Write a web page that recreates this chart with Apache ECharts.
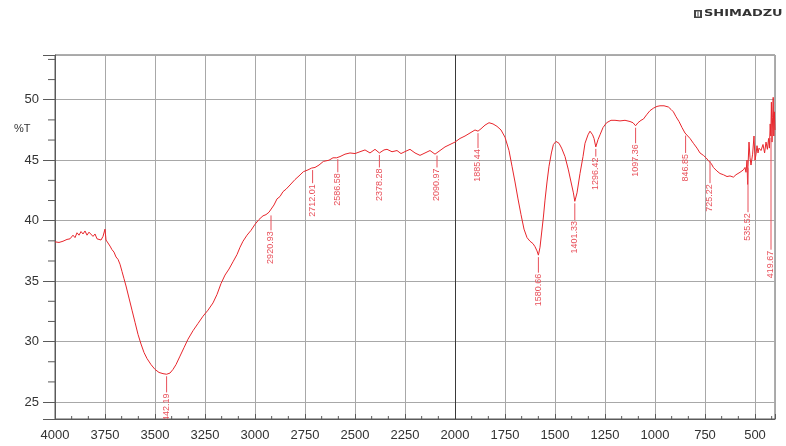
<!DOCTYPE html>
<html>
<head>
<meta charset="utf-8">
<script src="https://cdn.jsdelivr.net/npm/echarts@6/dist/echarts.min.js"></script>
<style>
html,body{margin:0;padding:0;background:#fff;}
#chart{width:786px;height:446px;}
</style>
</head>
<body>
<div id="chart"></div>
<script>
// ---- data ----
const wavenumbers = [4000,3980,3960,3940,3925,3910,3900,3890,3880,3870,3860,3850,3840,3830,3820,3810,3800,3790,3780,3770,3760,3750,3745,3735,3725,3715,3705,3695,3685,3675,3665,3655,3645,3630,3615,3600,3585,3570,3555,3540,3520,3500,3480,3460,3442,3425,3410,3395,3375,3355,3335,3310,3285,3260,3235,3210,3190,3170,3150,3130,3110,3090,3075,3060,3040,3020,3000,2980,2960,2945,2930,2920,2905,2890,2875,2860,2845,2825,2800,2780,2758,2735,2717,2700,2680,2658,2630,2610,2592,2575,2550,2525,2500,2475,2450,2425,2400,2378,2355,2340,2315,2290,2270,2245,2225,2200,2175,2150,2125,2100,2090,2075,2050,2025,2000,1975,1950,1925,1900,1885,1870,1850,1830,1810,1790,1770,1750,1730,1715,1700,1685,1670,1655,1640,1625,1610,1600,1590,1583,1575,1567,1558,1550,1540,1530,1518,1508,1495,1480,1467,1450,1433,1420,1408,1401,1390,1375,1360,1350,1335,1325,1312,1305,1296,1285,1275,1260,1242,1220,1200,1175,1150,1125,1110,1097,1085,1070,1058,1040,1025,1008,990,975,955,933,920,908,895,880,865,850,840,825,808,790,775,758,745,735,728,725,718,708,690,675,658,640,625,608,595,585,575,565,558,550,545,540,537,535,530,525,520,512,505,500,495,490,485,480,470,460,452,445,438,432,428,424,421,418,415,412,409,406,403,400];
const transmittance = [38.25,38.2,38.3,38.45,38.5,38.8,38.6,39.0,38.8,39.1,38.9,39.15,38.8,39.05,38.9,38.7,38.9,38.5,38.6,38.4,38.7,39.3,38.4,38.3,37.9,37.6,37.4,37.0,36.8,36.4,35.8,35.2,34.6,33.6,32.6,31.6,30.6,29.8,29.1,28.6,28.1,27.7,27.45,27.35,27.3,27.4,27.7,28.1,28.8,29.5,30.2,30.9,31.5,32.1,32.6,33.2,33.9,34.8,35.5,36.0,36.6,37.2,37.8,38.3,38.8,39.2,39.7,40.1,40.4,40.5,40.7,40.6,41.3,41.8,42.0,42.4,42.6,42.95,43.4,43.7,44.05,44.2,44.35,44.4,44.6,44.9,45.0,45.2,45.2,45.3,45.5,45.6,45.55,45.7,45.85,45.6,45.9,45.6,45.85,45.9,45.7,45.8,45.55,45.75,45.9,45.6,45.4,45.6,45.8,45.5,45.55,45.8,46.1,46.3,46.5,46.8,47.0,47.25,47.5,47.4,47.6,47.9,48.1,48.0,47.8,47.5,46.9,45.8,44.5,43.2,41.8,40.5,39.3,38.6,38.3,38.1,37.85,37.5,37.15,37.8,38.98,40.3,41.7,43.2,44.5,45.6,46.3,46.55,46.4,46.0,45.3,44.2,43.2,42.3,41.6,42.3,43.9,45.3,46.4,47.1,47.4,47.1,46.8,46.1,46.7,47.1,47.7,48.1,48.3,48.3,48.25,48.3,48.2,48.1,47.85,48.1,48.3,48.4,48.8,49.1,49.3,49.45,49.5,49.5,49.4,49.2,49.0,48.6,48.2,47.7,47.25,47.1,46.8,46.4,46.0,45.6,45.4,45.2,45.0,44.9,45.1,44.7,44.4,44.1,43.9,43.8,43.65,43.7,43.6,43.8,43.7,44.0,43.9,44.2,44.4,44.0,45.0,43.0,44.5,46.5,45.2,44.6,45.5,47.0,45.0,45.5,46.2,45.6,46.0,45.8,46.3,45.6,46.5,45.9,46.8,46.0,48.0,47.0,49.8,46.5,48.5,50.2,47.0,49.0,47.5];

const peakWavenumbers = [3442, 2920, 2712, 2586, 2378, 2090, 1885, 1583, 1401, 1296, 1097, 847, 725, 535, 420];
const peakTransmittance = [27.3, 40.6, 44.35, 45.25, 45.6, 45.55, 47.4, 37.15, 41.6, 46.1, 47.85, 47.2, 45.1, 44.5, 47.0];
const peakLabels = ["3442.19","2920.93","2712.01","2586.58","2378.28","2090.97","1885.44","1580.66","1401.33","1296.42","1097.36","846.85","725.22","535.52","419.67"];
const peakLabelTop = [25.8, 39.2, 43.1, 44.0, 44.4, 44.4, 46.0, 35.7, 40.05, 45.3, 46.4, 45.6, 43.1, 40.7, 37.6];

const xTickValues = [4000,3750,3500,3250,3000,2750,2500,2250,2000,1750,1500,1250,1000,750,500];
const yTickValues = [25,30,35,40,45,50];

// ---- chart ----
const FONT = '"Liberation Sans", Arial, sans-serif';
const X_MIN = 400, X_MAX = 4000, Y_MIN = 23.6, Y_MAX = 53.7;
const spectrum = wavenumbers.map((w, i) => [w, transmittance[i]]);
const peaks = peakWavenumbers.map((w, i) => [w, peakTransmittance[i], peakLabelTop[i]]);

// minor tick values (3 subdivisions per major interval)
const minorTicks = [];
for (let v = 500; v < 4000; v += 250) {
  minorTicks.push([v + 250/3, 0], [v + 500/3, 0]);
}
minorTicks.push([500 - 250/3, 0]);
for (let v = 25 - 5/3; v <= Y_MAX; v += 5/3) {
  if (Math.abs(v/5 - Math.round(v/5)) > 1e-6 && v > Y_MIN) minorTicks.push([v, 1]);
}

const chart = echarts.init(document.getElementById('chart'), null, {renderer: 'canvas'});
chart.setOption({
  animation: false,
  backgroundColor: '#fff',
  grid: {left: 55, right: 11, top: 55, bottom: 27, show: true, borderColor: '#5a5a5a', borderWidth: 1},
  xAxis: {
    type: 'value', min: X_MIN, max: X_MAX, inverse: true,
    minInterval: 250, maxInterval: 250,
    axisLine: {show: true, onZero: false, lineStyle: {color: '#5a5a5a', width: 1}},
    axisTick: {show: true, inside: true, length: 5, lineStyle: {color: '#5a5a5a'}},
    axisLabel: {
      color: '#333', fontSize: 13, fontFamily: FONT, margin: 10,
      formatter: v => xTickValues.includes(Math.round(v)) && Math.abs(v - Math.round(v)) < 1e-6 ? String(Math.round(v)) : ''
    },
    splitLine: {show: true, lineStyle: {color: '#a8a8a8', width: 1}}
  },
  yAxis: {
    type: 'value', min: Y_MIN, max: Y_MAX,
    minInterval: 5, maxInterval: 5,
    axisLine: {show: true, onZero: false, lineStyle: {color: '#5a5a5a', width: 1}},
    axisTick: {show: true, inside: false, length: 12, lineStyle: {color: '#5a5a5a'}},
    axisLabel: {
      color: '#333', fontSize: 13, fontFamily: FONT, margin: 16,
      formatter: v => yTickValues.includes(Math.round(v)) && Math.abs(v - Math.round(v)) < 1e-6 ? String(Math.round(v)) : ''
    },
    splitLine: {show: true, lineStyle: {color: '#a8a8a8', width: 1}}
  },
  graphic: [
    {type: 'text', left: 14, top: 123, style: {text: '%T', fill: '#333', font: '11px ' + FONT}},
    {type: 'group', left: 694, top: 10, children: [
      {type: 'rect', shape: {x: 0, y: 0, width: 8, height: 8}, style: {fill: '#444'}},
      {type: 'rect', shape: {x: 2, y: 1.5, width: 4, height: 5}, style: {fill: '#fff'}},
      {type: 'rect', shape: {x: 3.5, y: 1.5, width: 1, height: 5}, style: {fill: '#444'}},
      {type: 'text', x: 10, y: 0, scaleX: 1.62, style: {text: 'SHIMADZU', fill: '#333', font: 'bold 8px "DejaVu Sans", sans-serif'}}
    ]}
  ],
  series: [
    {
      type: 'line', data: spectrum, showSymbol: false, symbol: 'none', smooth: false,
      lineStyle: {color: '#e8262c', width: 1}, z: 5,
      markLine: {
        silent: true, symbol: 'none', label: {show: false},
        lineStyle: {color: '#3a3a3a', width: 1, type: 'solid'},
        data: [{xAxis: 2000}]
      }
    },
    {
      type: 'custom', data: peaks, clip: true, z: 6,
      renderItem: (params, api) => {
        const w = api.value(0), t = api.value(1), top = api.value(2);
        const p1 = api.coord([w, t]);
        const p2 = api.coord([w, top]);
        return {type: 'group', children: [
          {type: 'line', shape: {x1: p1[0], y1: p1[1] + 2, x2: p2[0], y2: p2[1]}, style: {stroke: '#e8505a', lineWidth: 1}},
          {type: 'text', x: p2[0], y: p2[1] + 1, rotation: Math.PI / 2,
           style: {text: peakLabels[params.dataIndex], align: 'right', verticalAlign: 'middle', fill: '#e8505a', font: '9px ' + FONT}}
        ]};
      }
    },
    {
      type: 'custom', data: minorTicks, clip: false, z: 4, silent: true,
      renderItem: (params, api) => {
        const v = api.value(0), kind = api.value(1);
        if (kind === 0) {
          const p = api.coord([v, Y_MIN]);
          return {type: 'line', shape: {x1: p[0], y1: p[1], x2: p[0], y2: p[1] - 3}, style: {stroke: '#5a5a5a', lineWidth: 1}};
        }
        const p = api.coord([X_MAX, v]);
        return {type: 'line', shape: {x1: p[0] - 7, y1: p[1], x2: p[0], y2: p[1]}, style: {stroke: '#5a5a5a', lineWidth: 1}};
      }
    }
  ]
});
</script>
</body>
</html>
